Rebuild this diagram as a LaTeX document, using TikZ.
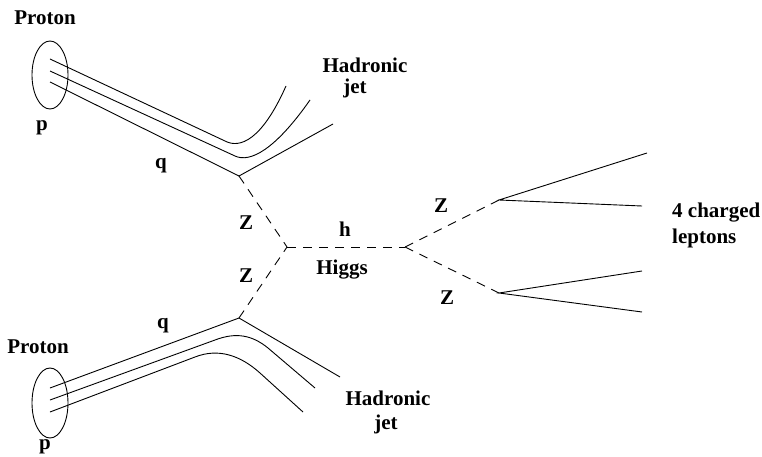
\documentclass[tikz,border=0pt]{standalone}
\usepackage{fontspec}
\setmainfont{Liberation Serif}
\usetikzlibrary{shapes.geometric}
\begin{document}
\begin{tikzpicture}[x=1pt,y=-1pt,
  lbl/.style={font=\fontsize{21}{24}\selectfont\bfseries, inner sep=0pt, align=center},
  bag/.style={draw, line width=0.9pt, ellipse, minimum width=36pt, inner sep=0pt},
  quark/.style={line width=0.9pt},
  boson/.style={line width=0.9pt, dash pattern=on 9pt off 7pt},
  lepton/.style={line width=0.9pt}]
\useasboundingbox (0,0) rectangle (762,457);

% incoming protons
\node[bag, minimum height=68pt] (p1) at (50,75) {};
\node[bag, minimum height=70pt] (p2) at (50,403) {};

% vertices
\coordinate (v1) at (239,176);
\coordinate (v2) at (239,318);
\coordinate (vh) at (287,247);
\coordinate (vz) at (405,247);
\coordinate (z1) at (499,200);
\coordinate (z2) at (499,293);

% upper proton: spectator quarks and jet
\draw[quark] (50,59) -- (225,141) .. controls (240,149) and (262,140) .. (286,86);
\draw[quark] (50,71) -- (235,156) .. controls (250,163) and (275,150) .. (310,100);
\draw[quark] (50,82) -- (v1) -- (333,124);

% lower proton: spectator quarks and jet
\draw[quark] (50,388) -- (v2) -- (340,377);
\draw[quark] (50,400) -- (215,340) .. controls (236,332) and (252,335) .. (268,348) -- (315,388);
\draw[quark] (50,412) -- (195,357) .. controls (218,348) and (240,355) .. (260,373) -- (303,412);

% bosons
\draw[boson] (v1) -- (vh);
\draw[boson] (v2) -- (vh);
\draw[boson] (vh) -- (vz);
\draw[boson] (vz) -- (z1);
\draw[boson] (vz) -- (z2);

% leptons
\coordinate (l1) at (647,153);
\coordinate (l2) at (642,206);
\coordinate (l3) at (642,271);
\coordinate (l4) at (642,312);
\draw[lepton] (l1) -- (z1) -- (l2);
\draw[lepton] (l3) -- (z2) -- (l4);

% labels
\node[lbl] (t1) at (45,18) {Proton};
\node[lbl] (t2) at (42,128) {p};
\node[lbl] (t3) at (161,166) {q};
\node[lbl] (t4a) at (365,65) {Hadronic};
\node[lbl] (t4b) at (355,88) {jet};
\node[lbl] (t5) at (246,223) {Z};
\node[lbl] (t6) at (246,276) {Z};
\node[lbl] (t7) at (345,229) {h};
\node[lbl] (t8) at (342,270) {Higgs};
\node[lbl] (t9) at (441,206) {Z};
\node[lbl] (t10) at (447,298) {Z};
\node[lbl, anchor=west] (t11a) at (672,213) {4 charged};
\node[lbl, anchor=west] (t11b) at (672,238) {leptons};
\node[lbl] (t12) at (38,347) {Proton};
\node[lbl] (t13) at (45,447) {p};
\node[lbl] (t14) at (163,326) {q};
\node[lbl] (t15a) at (388,398) {Hadronic};
\node[lbl] (t15b) at (386,424) {jet};
\end{tikzpicture}
\end{document}
